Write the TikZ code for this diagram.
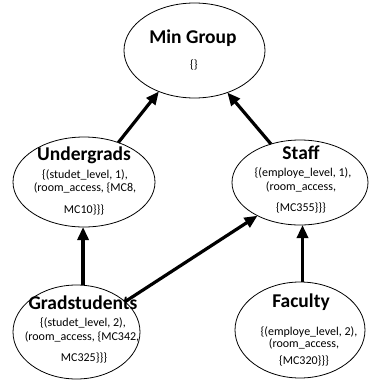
\documentclass[tikz,border=0pt]{standalone}
\usepackage{fontspec}
\setmainfont{Carlito}
\usetikzlibrary{shapes.geometric,arrows.meta}

\begin{document}
\begin{tikzpicture}[x=1pt,y=-1pt,
  group/.style={draw=black, line width=0.8pt, ellipse, inner sep=0pt, outer sep=0pt},
  title/.style={font=\fontsize{19.5}{20}\selectfont\bfseries, inner sep=0pt},
  attr/.style={font=\fontsize{12}{12}\selectfont, inner sep=0pt},
  link/.style={line width=3.2pt, -{Triangle[length=13pt,width=11pt]}}]
\useasboundingbox (0,0) rectangle (368,381);

% group ellipses
\node[group, minimum width=141pt, minimum height=95pt] (min)   at (194.5,50.5) {};
\node[group, minimum width=142pt, minimum height=90pt] (under) at (84,182)     {};
\node[group, minimum width=136pt, minimum height=85pt] (staff) at (300,182.5)  {};
\node[group, minimum width=127pt, minimum height=94pt] (grad)  at (76.5,332)   {};
\node[group, minimum width=130pt, minimum height=96pt] (fac)   at (300,330)    {};

% Min Group
\node[title] (mint) at (193,38) {Min Group};
\node[attr]  (mina) at (194,65) {\{\}};

% Undergrads
\node[title] (undert)  at (84,155)  {Undergrads};
\node[attr]  (undera1) at (85,175)  {\{(studet\_level, 1),};
\node[attr]  (undera2) at (85,188)  {(room\_access, \{MC8,};
\node[attr]  (undera3) at (84,210)  {MC10\}\}\}};

% Staff
\node[title] (stafft)  at (301,153) {Staff};
\node[attr]  (staffa1) at (303,173) {\{(employe\_level, 1),};
\node[attr]  (staffa2) at (301,187) {(room\_access,};
\node[attr]  (staffa3) at (301,208) {\{MC355\}\}\}};

% Gradstudents
\node[title] (gradt)  at (83,303) {Gradstudents};
\node[attr]  (grada1) at (83,323) {\{(studet\_level, 2),};
\node[attr]  (grada2) at (82,337) {(room\_access, \{MC342,};
\node[attr]  (grada3) at (84,358) {MC325\}\}\}};

% Faculty
\node[title] (fact)  at (301,302) {Faculty};
\node[attr]  (faca1) at (309,332) {\{(employe\_level, 2),};
\node[attr]  (faca2) at (304,344) {(room\_access,};
\node[attr]  (faca3) at (304,361) {\{MC320\}\}\}};

% inheritance arrows
\draw[link] (under.49)  -- (min.229);
\draw[link] (staff.127) -- (min.308);
\draw[link] (grad.82)   -- (grad.82 |- under.south);
\draw[link] (grad.32)   -- (staff.218);
\draw[link] (fac.87)    -- (fac.87 |- staff.south);
\end{tikzpicture}
\end{document}
